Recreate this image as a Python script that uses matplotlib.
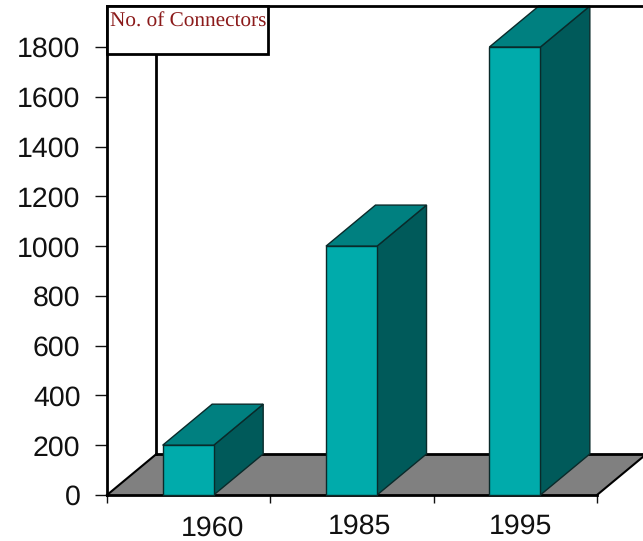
import matplotlib
matplotlib.use("agg")

import matplotlib.pyplot as plt
from matplotlib.patches import Polygon, Rectangle

years = ["1960", "1985", "1995"]
connectors = [200, 1000, 1800]
y_ticks = [0, 200, 400, 600, 800, 1000, 1200, 1400, 1600, 1800]

W, H = 643, 541
BAR_W = 0.3125
BAR_C = 0.497
DEPTH_X = 0.303
DEPTH_Y = 165
Y_TOP = 1965

# px offsets of the year labels from the bar centres
LABEL_DX = [24, 8, 6]
LABEL_DY = [-15, -13.5, -13.5]

plt.rcParams["font.family"] = ["Liberation Sans", "DejaVu Sans"]
plt.rcParams["text.hinting"] = "none"

fig = plt.figure(figsize=(W / 100, H / 100), dpi=100)
ax = fig.add_axes([107 / W, 46 / H, 490 / W, 489 / H])
ax.set_xlim(0, 3)
ax.set_ylim(0, Y_TOP)

for s in ["right", "bottom", "top"]:
    ax.spines[s].set_visible(False)
ax.spines["left"].set_linewidth(2)
ax.spines["left"].set_zorder(6)

ax.set_yticks(y_ticks)
ax.tick_params(axis="y", length=8.6, width=1, pad=10.5, labelsize=20.5, colors="#111111")
ax.set_xticks(range(4))
ax.set_xticklabels([])
ax.tick_params(axis="x", length=5.8, width=1, color="#111111")

# floor and back wall
floor = Polygon([(0, 0), (DEPTH_X, DEPTH_Y), (3 + DEPTH_X, DEPTH_Y), (3, 0)],
                facecolor="#808080", edgecolor="none", clip_on=False, zorder=1)
ax.add_patch(floor)
ax.plot([0, 3 + DEPTH_X], [Y_TOP, Y_TOP], color="black", lw=2, clip_on=False, zorder=5)
ax.plot([DEPTH_X, 3 + DEPTH_X], [DEPTH_Y, DEPTH_Y], color="black", lw=2, clip_on=False, zorder=2)
ax.plot([0, DEPTH_X], [0, DEPTH_Y], color="black", lw=1.5, clip_on=False, zorder=2)
ax.plot([DEPTH_X, DEPTH_X], [DEPTH_Y, Y_TOP], color="black", lw=2, clip_on=False, zorder=2)
ax.plot([0, 3], [0, 0], color="black", lw=2, clip_on=False, zorder=2)
ax.plot([3, 3 + DEPTH_X], [0, DEPTH_Y], color="black", lw=1.5, clip_on=False, zorder=2)

# bars
for i, (year, val) in enumerate(zip(years, connectors)):
    x0 = i + BAR_C - BAR_W / 2
    x1 = x0 + BAR_W
    side = Polygon([(x1, 0), (x1 + DEPTH_X, DEPTH_Y), (x1 + DEPTH_X, val + DEPTH_Y), (x1, val)],
                   facecolor="#005A5A", edgecolor="#0a2a2a", lw=1, clip_on=False, zorder=3)
    top = Polygon([(x0, val), (x1, val), (x1 + DEPTH_X, val + DEPTH_Y), (x0 + DEPTH_X, val + DEPTH_Y)],
                  facecolor="#008080", edgecolor="#0a2a2a", lw=1, clip_on=False, zorder=3)
    front = Rectangle((x0, 0), BAR_W, val, facecolor="#00ABAB", edgecolor="#0a2a2a", lw=1,
                      clip_on=False, zorder=4)
    ax.add_patch(side)
    ax.add_patch(top)
    ax.add_patch(front)
    ax.annotate(year, (i + BAR_C, 0), xytext=(LABEL_DX[i] * 0.72, LABEL_DY[i]),
                textcoords="offset points", ha="center", va="top", fontsize=20.5,
                color="#111111", annotation_clip=False)

# title box
fig.patches.append(Rectangle((107 / W, 1 - 54 / H), 161 / W, 48 / H, transform=fig.transFigure,
                             facecolor="white", edgecolor="black", lw=2, zorder=7))
fig.text(110 / W, 1 - 21.5 / H, "No. of Connectors", family="Liberation Serif", fontsize=15.3,
         color="#8B1A1A", va="center", ha="left", zorder=8)

fig.savefig("out.png", dpi=100)
